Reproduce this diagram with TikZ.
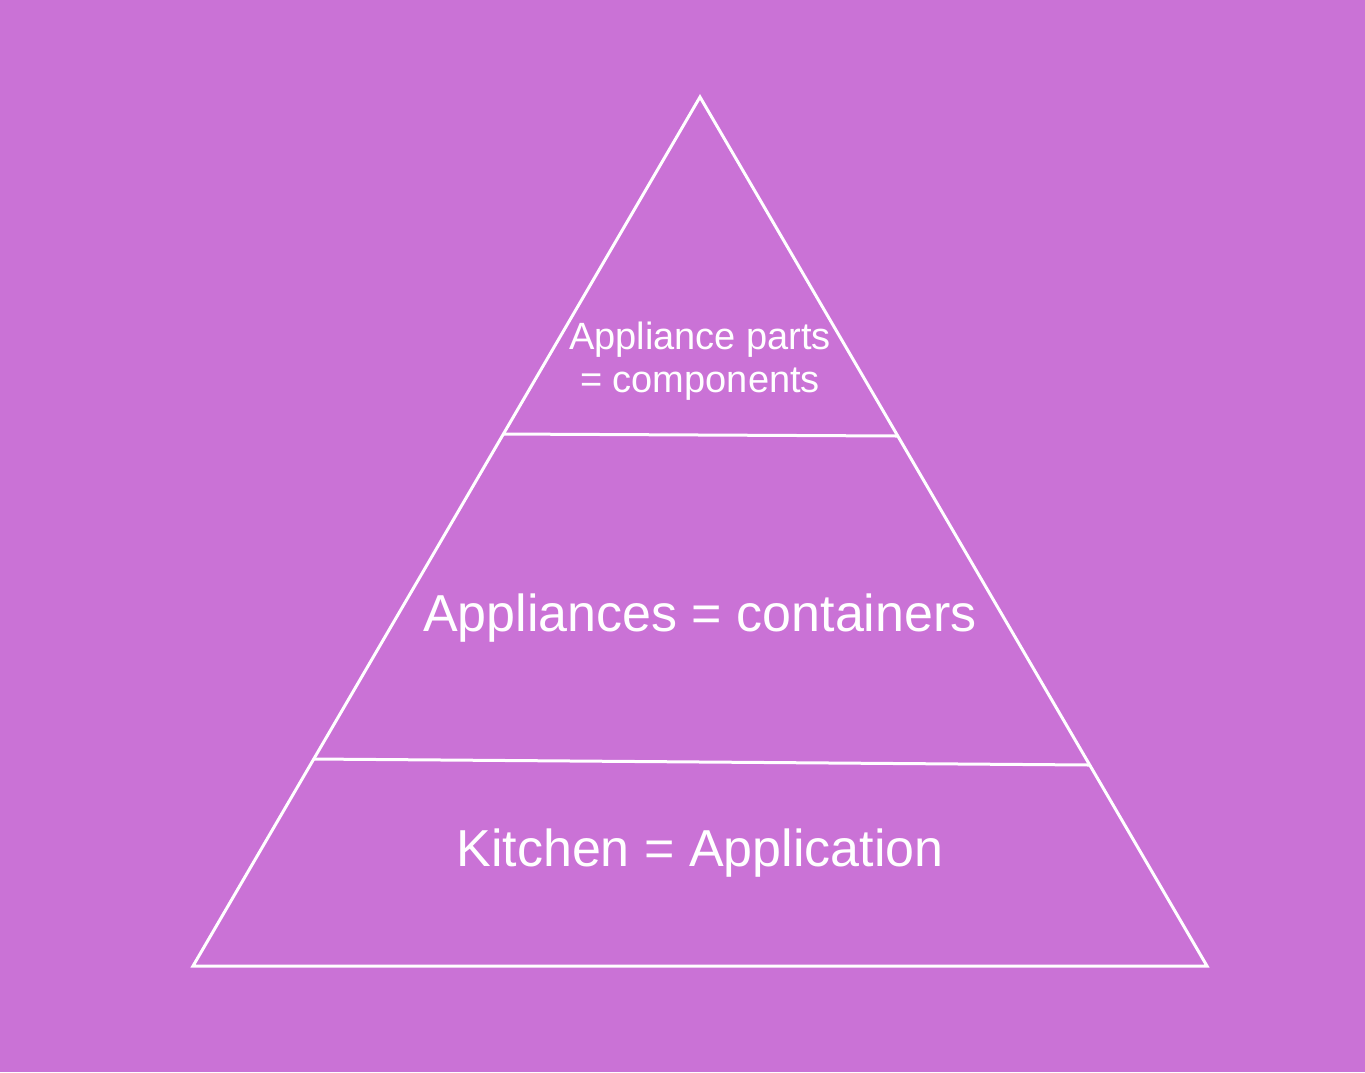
\documentclass[tikz,border=0pt]{standalone}
\usepackage{fontspec}
\setmainfont{Liberation Sans}
\usetikzlibrary{calc}
\definecolor{bgpurple}{RGB}{202,114,214}

\begin{document}
\begin{tikzpicture}[x=0.5pt,y=-0.5pt,line width=1.5pt]
\tikzstyle{layer}=[draw=white,line join=miter]
\tikzstyle{lbl}=[text=white,align=center,inner sep=0pt]

\fill[bgpurple] (0,0) rectangle (1365,1072);
\useasboundingbox (0,0) rectangle (1365,1072);

\coordinate (top) at (700,97);
\coordinate (bl) at (193,966);
\coordinate (br) at (1207,966);
\coordinate (l1) at (503,434);
\coordinate (r1) at (897,436);
\coordinate (l2) at (313,759);
\coordinate (r2) at (1089,765);

\draw[layer] (top) -- (br) -- (bl) -- cycle;
\draw[layer] (l1) -- (r1);
\draw[layer] (l2) -- (r2);

\node[lbl,font=\fontsize{19}{21.5}\selectfont] (parts) at (700,361) {Appliance parts\\= components};
\node[lbl,font=\fontsize{26}{30}\selectfont] (apps) at (700,618) {Appliances = containers};
\node[lbl,font=\fontsize{26}{30}\selectfont] (kitchen) at (700,853) {Kitchen = Application};
\end{tikzpicture}
\end{document}
